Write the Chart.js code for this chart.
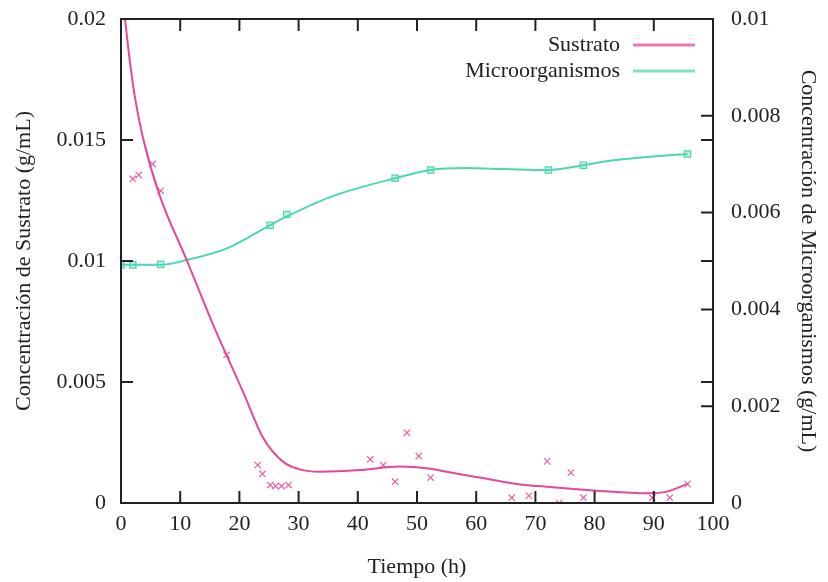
<!DOCTYPE html>
<html>
<head>
<meta charset="utf-8">
<script src="https://cdn.jsdelivr.net/npm/chart.js@4.4.1/dist/chart.umd.min.js"></script>
<style>
  html, body { margin: 0; padding: 0; background: #fff; }
  #wrap { width: 828px; height: 582px; }
</style>
</head>
<body>
<div id="wrap"><canvas id="myChart" width="828" height="582"></canvas></div>
<script>
// puntos medidos
let tiempoSustrato = [2.0, 3.0, 5.35, 6.7, 17.85, 23.1, 23.9, 25.2, 26.1, 27.1, 28.3, 42.1, 44.3, 46.3, 48.3, 50.3, 52.3, 66.0, 68.9, 72.0, 74.0, 76.0, 78.1, 89.75, 92.7, 95.7];
let sustrato = [0.01339, 0.01355, 0.0140, 0.0129, 0.00612, 0.00157, 0.0012, 0.00074, 0.0007, 0.0007, 0.00074, 0.0018, 0.00157, 0.00088, 0.0029, 0.00194, 0.00105, 0.00022, 0.0003, 0.00172, 0.0, 0.00125, 0.00022, 0.00022, 0.00022, 0.00078];

let tiempoMicro = [0, 2.0, 6.7, 25.2, 28.0, 46.3, 52.3, 72.2, 78.1, 95.7];
let micro = [0.00492, 0.00492, 0.00493, 0.00574, 0.00596, 0.00671, 0.00688, 0.00688, 0.00698, 0.00721];

// curvas de ajuste
let tiempoAjusteS = [0, 0.7, 1.5, 2.4, 3.8, 6.6, 11.1, 15.5, 20.6, 24.0, 27.4, 30.2, 33.6, 40.4, 47, 52, 55, 60.6, 66.3, 71.9, 80.4, 88.8, 92.2, 95.7];
let ajusteS = [0.0216, 0.01996, 0.01825, 0.0167, 0.0150, 0.01266, 0.01004, 0.0074, 0.0046, 0.0027, 0.0017, 0.00139, 0.00129, 0.00136, 0.00151, 0.00143, 0.00129, 0.00105, 0.00081, 0.00067, 0.00051, 0.0004, 0.00047, 0.00079];

let tiempoAjusteM = [0, 6.7, 11.1, 17.9, 25.2, 28.0, 36, 46.3, 52.3, 58, 65, 72.2, 78.1, 83.2, 89.9, 95.7];
let ajusteM = [0.00492, 0.00492, 0.00502, 0.00526, 0.00574, 0.00592, 0.00635, 0.00671, 0.00688, 0.00692, 0.0069, 0.00688, 0.00698, 0.00708, 0.00716, 0.00721];

let xTicks = [0, 10, 20, 30, 40, 50, 60, 70, 80, 90, 100];
let yTicks = [0, 0.005, 0.01, 0.015, 0.02];
let y2Ticks = [0, 0.002, 0.004, 0.006, 0.008, 0.01];

const pink = "rgb(228, 72, 152)";
const teal = "rgb(78, 214, 176)";

function pairs(xs, ys) {
  return xs.map((x, i) => ({ x: x, y: ys[i] }));
}

function fixTicks(list) {
  return function (scale) {
    scale.ticks = list.map((v) => ({ value: v }));
  };
}

function label(v) {
  return String(Number(v.toFixed(4)));
}

// marco y marcas hacia dentro, como gnuplot
const framePlugin = {
  id: "frame",
  afterDraw(chart) {
    let ctx = chart.ctx;
    let a = chart.chartArea;
    let len = 12;
    ctx.save();
    ctx.strokeStyle = "#222";
    ctx.lineWidth = 2;
    ctx.beginPath();
    xTicks.forEach((v) => {
      let px = chart.scales.x.getPixelForValue(v);
      ctx.moveTo(px, a.bottom); ctx.lineTo(px, a.bottom - len);
      ctx.moveTo(px, a.top); ctx.lineTo(px, a.top + len);
    });
    yTicks.forEach((v) => {
      let py = chart.scales.y.getPixelForValue(v);
      ctx.moveTo(a.left, py); ctx.lineTo(a.left + len, py);
      ctx.moveTo(a.right, py); ctx.lineTo(a.right - len, py);
    });
    y2Ticks.forEach((v) => {
      let py = chart.scales.y2.getPixelForValue(v);
      ctx.moveTo(a.right, py); ctx.lineTo(a.right - len, py);
    });
    ctx.stroke();
    ctx.strokeRect(a.left, a.top, a.right - a.left, a.bottom - a.top);

    // leyenda
    ctx.font = "22px 'Liberation Serif', serif";
    ctx.fillStyle = "#222";
    ctx.textAlign = "right";
    ctx.textBaseline = "middle";
    let items = [
      { text: "Sustrato", color: "rgb(236, 120, 176)", y: 45 },
      { text: "Microorganismos", color: "rgb(122, 226, 196)", y: 71 },
    ];
    items.forEach((it) => {
      ctx.fillText(it.text, 620, it.y);
      ctx.strokeStyle = it.color;
      ctx.lineWidth = 3;
      ctx.beginPath();
      ctx.moveTo(633, it.y);
      ctx.lineTo(695, it.y);
      ctx.stroke();
    });
    ctx.restore();
  },
};

function fitY(width) {
  return function (s) {
    s.width = width;
    s.paddingTop = 0;
    s.paddingBottom = 0;
  };
}

Chart.defaults.font.family = "'Liberation Serif', 'Times New Roman', serif";
Chart.defaults.font.size = 22;
Chart.defaults.color = "#222";

var chart = document.getElementById("myChart").getContext("2d");
var myChart = new Chart(chart, {
  type: "scatter",
  data: {
    datasets: [
      {
        label: "Sustrato",
        type: "line",
        data: pairs(tiempoAjusteS, ajusteS),
        yAxisID: "y",
        borderColor: pink,
        borderWidth: 2,
        pointRadius: 0,
        cubicInterpolationMode: "monotone",
        fill: false,
      },
      {
        label: "Microorganismos",
        type: "line",
        data: pairs(tiempoAjusteM, ajusteM),
        yAxisID: "y2",
        borderColor: teal,
        borderWidth: 2,
        pointRadius: 0,
        cubicInterpolationMode: "monotone",
        fill: false,
      },
      {
        label: "Sustrato datos",
        data: pairs(tiempoSustrato, sustrato),
        yAxisID: "y",
        pointStyle: "crossRot",
        pointRadius: 4.5,
        borderWidth: 1.2,
        borderColor: "rgb(232, 96, 166)",
      },
      {
        label: "Micro datos",
        data: pairs(tiempoMicro, micro),
        yAxisID: "y2",
        pointStyle: "rect",
        pointRadius: 4.5,
        borderWidth: 1.2,
        borderColor: teal,
        backgroundColor: "rgba(140, 230, 205, 0.5)",
      },
    ],
  },
  options: {
    responsive: false,
    animation: false,
    layout: { padding: { top: 19 } },
    plugins: {
      legend: { display: false },
      tooltip: { enabled: false },
    },
    scales: {
      x: {
        type: "linear",
        min: 0,
        max: 100,
        afterBuildTicks: fixTicks(xTicks),
        afterFit: (s) => { s.height = 79; },
        grid: { display: false },
        border: { display: false },
        ticks: { padding: 0, callback: label },
        title: { display: true, text: "Tiempo (h)", padding: { top: 0, bottom: 2 } },
      },
      y: {
        position: "left",
        min: 0,
        max: 0.02,
        afterBuildTicks: fixTicks(yTicks),
        afterFit: fitY(121),
        grid: { display: false },
        border: { display: false },
        ticks: { padding: 7, callback: label },
        title: { display: true, text: "Concentración de Sustrato (g/mL)", padding: { top: 11, bottom: 0 } },
      },
      y2: {
        position: "right",
        min: 0,
        max: 0.01,
        afterBuildTicks: fixTicks(y2Ticks),
        afterFit: fitY(115),
        grid: { display: false },
        border: { display: false },
        ticks: { padding: 10, callback: label },
        title: { display: true, text: "Concentración de Microorganismos (g/mL)", padding: { top: 7, bottom: 0 } },
      },
    },
  },
  plugins: [framePlugin],
});
</script>
</body>
</html>
